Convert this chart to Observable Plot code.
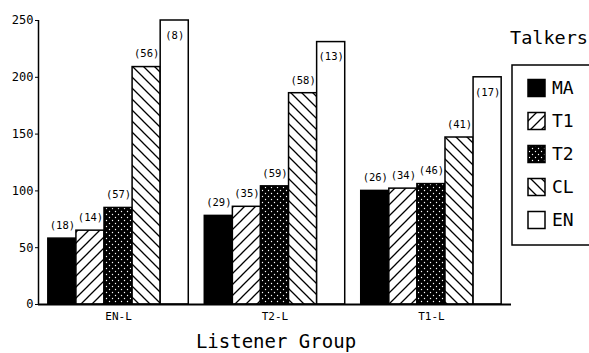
<!DOCTYPE html>
<html><head><meta charset="utf-8">
<script src="https://cdn.jsdelivr.net/npm/d3@7"></script>
<script src="https://cdn.jsdelivr.net/npm/@observablehq/plot@0.6"></script>
<style>
body{margin:0;background:#fff}
#chart{position:relative;width:589px;height:353px;overflow:hidden}
</style>
</head><body><div id="chart"></div>
<script>
// ---- data ----
const groups = ["EN-L", "T2-L", "T1-L"];
const talkers = ["MA", "T1", "T2", "CL", "EN"];
const maValues = [58, 78, 100];
const t1Values = [65, 86, 102];
const t2Values = [85, 104, 106];
const clValues = [209, 186, 147];
const enValues = [250, 231, 200];
const maCounts = [18, 29, 26];
const t1Counts = [14, 35, 34];
const t2Counts = [57, 59, 46];
const clCounts = [56, 58, 41];
const enCounts = [8, 13, 17];
const yTicks = [0, 50, 100, 150, 200, 250];
const xTitle = "Listener Group";
const legendTitle = "Talkers";

// ---- build table ----
const seriesValues = [maValues, t1Values, t2Values, clValues, enValues];
const seriesCounts = [maCounts, t1Counts, t2Counts, clCounts, enCounts];
const fills = {MA: "black", T1: "url(#hatchUp)", T2: "url(#dots)", CL: "url(#hatchDown)", EN: "white"};
const gap = 0.57, outer = 0.35; // spacing in bar-width units
const rows = [];
groups.forEach((g, gi) => talkers.forEach((t, ti) => {
  const pos = gi * (talkers.length + gap) + ti;
  rows.push({group: g, talker: t, value: seriesValues[ti][gi], n: seriesCounts[ti][gi], x1: pos, x2: pos + 1});
}));
const xMax = groups.length * talkers.length + (groups.length - 1) * gap + outer;
const centers = groups.map((g, gi) => gi * (talkers.length + gap) + talkers.length / 2);

const mono = "DejaVu Sans Mono";
const barMarks = talkers.map(t => Plot.rectY(rows.filter(d => d.talker === t), {
  x1: "x1", x2: "x2", y: "value", fill: fills[t], stroke: "black", strokeWidth: 1.5
}));

const plot = Plot.plot({
  width: 589, height: 353,
  marginLeft: 38, marginRight: 78, marginTop: 20, marginBottom: 49,
  style: {fontFamily: mono, background: "white", color: "black"},
  x: {type: "linear", domain: [-outer, xMax]},
  y: {domain: [0, 250]},
  marks: [
    ...barMarks,
    Plot.text(rows.filter(d => d.talker !== "EN"), {x: d => d.x1 + 0.5, y: "value", text: d => `(${d.n})`, dy: -13, fontSize: 10.5, fill: "black"}),
    Plot.text(rows.filter(d => d.talker === "EN"), {x: d => d.x1 + 0.5, y: "value", text: d => `(${d.n})`, dy: 15, fontSize: 10.5, fill: "black"}),
    Plot.ruleY([0], {stroke: "black", strokeWidth: 2}),
    Plot.ruleX([-outer], {y1: 0, y2: 250, stroke: "black", strokeWidth: 1.5}),
    Plot.axisY({ticks: yTicks, tickSize: 3, tickPadding: 2, label: null, fontSize: 12}),
    Plot.axisX({ticks: centers, tickFormat: d => groups[centers.indexOf(d)], tickSize: 0, tickPadding: 8, label: null, fontSize: 11})
  ]
});

document.getElementById("chart").appendChild(plot);
const svg = d3.select(plot);

// patterns
const defs = svg.insert("defs", ":first-child");
const up = defs.append("pattern").attr("id", "hatchUp").attr("patternUnits", "userSpaceOnUse").attr("width", 11).attr("height", 11);
up.append("rect").attr("width", 11).attr("height", 11).attr("fill", "white");
up.append("path").attr("d", "M-1,1 l2,-2 M0,11 l11,-11 M10,12 l2,-2").attr("stroke", "black").attr("stroke-width", 1.3);
const down = defs.append("pattern").attr("id", "hatchDown").attr("patternUnits", "userSpaceOnUse").attr("width", 11).attr("height", 11);
down.append("rect").attr("width", 11).attr("height", 11).attr("fill", "white");
down.append("path").attr("d", "M-1,10 l2,2 M0,0 l11,11 M10,-1 l2,2").attr("stroke", "black").attr("stroke-width", 1.3);
const dots = defs.append("pattern").attr("id", "dots").attr("patternUnits", "userSpaceOnUse").attr("width", 6).attr("height", 6);
dots.append("rect").attr("width", 6).attr("height", 6).attr("fill", "black");
dots.append("circle").attr("cx", 1.5).attr("cy", 1.5).attr("r", 0.7).attr("fill", "white");
dots.append("circle").attr("cx", 4.5).attr("cy", 4.5).attr("r", 0.7).attr("fill", "white");

// x title
svg.append("text").attr("x", 276).attr("y", 348).attr("text-anchor", "middle")
  .attr("font-family", mono).attr("font-size", 19).attr("fill", "black").text(xTitle);

// legend
const lg = svg.append("g").attr("text-anchor", "start");
lg.append("text").attr("x", 510).attr("y", 44).attr("font-family", mono).attr("font-size", 18.5).attr("fill", "black").text(legendTitle);
lg.append("rect").attr("x", 512).attr("y", 65).attr("width", 100).attr("height", 180).attr("fill", "white").attr("stroke", "black").attr("stroke-width", 1.5);
const ly = [88, 121, 154, 187, 220];
talkers.forEach((t, i) => {
  lg.append("rect").attr("x", 528).attr("y", ly[i] - 8.5).attr("width", 17).attr("height", 17)
    .attr("fill", fills[t]).attr("stroke", "black").attr("stroke-width", 1.5);
  lg.append("text").attr("x", 552).attr("y", ly[i]).attr("dy", "0.36em").attr("font-family", mono)
    .attr("font-size", 18).attr("fill", "black").text(t);
});
</script>
</body></html>
